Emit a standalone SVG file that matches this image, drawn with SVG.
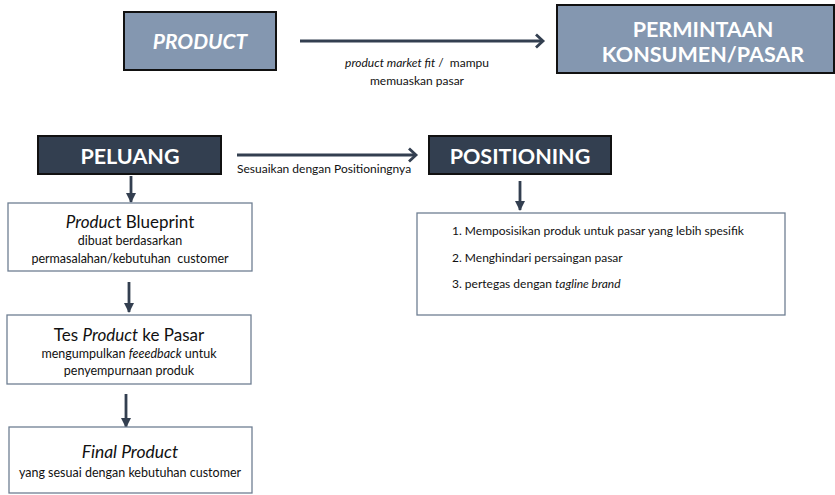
<svg xmlns="http://www.w3.org/2000/svg" width="835" height="495" viewBox="0 0 835 495">
<style>
text{font-family:Lato,"Open Sans","Liberation Sans",sans-serif;}
.light{fill:#8497b0;stroke:#111;stroke-width:2;}
.dark{fill:#333f50;stroke:#111;stroke-width:2;}
.white{fill:#fff;stroke:#6f7f93;stroke-width:1.3;}
.hd{fill:#fff;font-weight:bold;text-anchor:middle;}
.c{text-anchor:middle;fill:#111;}
.ln{stroke:#333f50;stroke-width:2.8;fill:none;}
</style>
<defs>
<marker id="open" markerWidth="12" markerHeight="16" refX="9" refY="8" orient="auto" markerUnits="userSpaceOnUse">
<path d="M2,1.5 L9,8 L2,14.5" fill="none" stroke="#333f50" stroke-width="2.8"/>
</marker>
<marker id="tri" markerWidth="10" markerHeight="10" refX="9" refY="5" orient="auto" markerUnits="userSpaceOnUse">
<path d="M0,0 L10,5 L0,10 Z" fill="#333f50"/>
</marker>
</defs>
<g id="connectors">
<line class="ln" x1="300" y1="41" x2="543" y2="41" marker-end="url(#open)"/>
<text x="417" y="67" font-size="12" class="c" xml:space="preserve"><tspan font-style="italic">product market fit</tspan> /  mampu</text>
<text x="417" y="85" font-size="12" class="c">memuaskan pasar</text>
<line class="ln" x1="237" y1="155" x2="416" y2="155" marker-end="url(#open)"/>
<text x="237" y="173" font-size="12" fill="#111">Sesuaikan dengan Positioningnya</text>
<line class="ln" x1="131" y1="176" x2="131" y2="202" marker-end="url(#tri)"/>
<line class="ln" x1="520" y1="181" x2="520" y2="210" marker-end="url(#tri)"/>
<line class="ln" x1="129" y1="282" x2="129" y2="312" marker-end="url(#tri)"/>
<line class="ln" x1="126" y1="394" x2="126" y2="427" marker-end="url(#tri)"/>
</g>
<g id="product">
<rect class="light" x="124" y="12" width="152" height="58"/>
<text x="200" y="49" font-size="21" font-style="italic" class="hd">PRODUCT</text>
</g>
<g id="permintaan">
<rect class="light" x="557" y="5" width="277" height="68"/>
<text x="703" y="37" font-size="21.5" class="hd">PERMINTAAN</text>
<text x="703" y="62" font-size="21.5" class="hd">KONSUMEN/PASAR</text>
</g>
<g id="peluang">
<rect class="dark" x="38" y="136" width="183" height="38"/>
<text x="130" y="164" font-size="21.5" class="hd">PELUANG</text>
</g>
<g id="positioning">
<rect class="dark" x="429" y="136" width="182" height="38"/>
<text x="520" y="164" font-size="21.5" class="hd">POSITIONING</text>
</g>
<g id="positioning-list">
<rect class="white" x="417" y="213" width="368" height="102"/>
<text x="452" y="235" font-size="12" fill="#111">1. Memposisikan produk untuk pasar yang lebih spesifik</text>
<text x="452" y="262" font-size="12" fill="#111">2. Menghindari persaingan pasar</text>
<text x="452" y="288" font-size="12" fill="#111">3. pertegas dengan <tspan font-style="italic">tagline brand</tspan></text>
</g>
<g id="blueprint">
<rect class="white" x="8" y="203" width="244" height="68"/>
<text x="130" y="228" font-size="17" class="c"><tspan font-style="italic">Produc</tspan>t Blueprint</text>
<text x="130" y="245" font-size="12.5" class="c">dibuat berdasarkan</text>
<text x="130" y="263" font-size="12.5" class="c" xml:space="preserve">permasalahan/kebutuhan  customer</text>
</g>
<g id="tes">
<rect class="white" x="7" y="315" width="244" height="69"/>
<text x="129" y="341" font-size="17" class="c">Tes <tspan font-style="italic">Product</tspan> ke Pasar</text>
<text x="129" y="358" font-size="12.5" class="c">mengumpulkan <tspan font-style="italic">feeedback</tspan> untuk</text>
<text x="129" y="375" font-size="12.5" class="c">penyempurnaan produk</text>
</g>
<g id="final">
<rect class="white" x="9" y="427" width="243" height="66"/>
<text x="130" y="458" font-size="17.5" font-style="italic" class="c">Final Product</text>
<text x="130" y="477" font-size="12.5" class="c">yang sesuai dengan kebutuhan customer</text>
</g>
</svg>
